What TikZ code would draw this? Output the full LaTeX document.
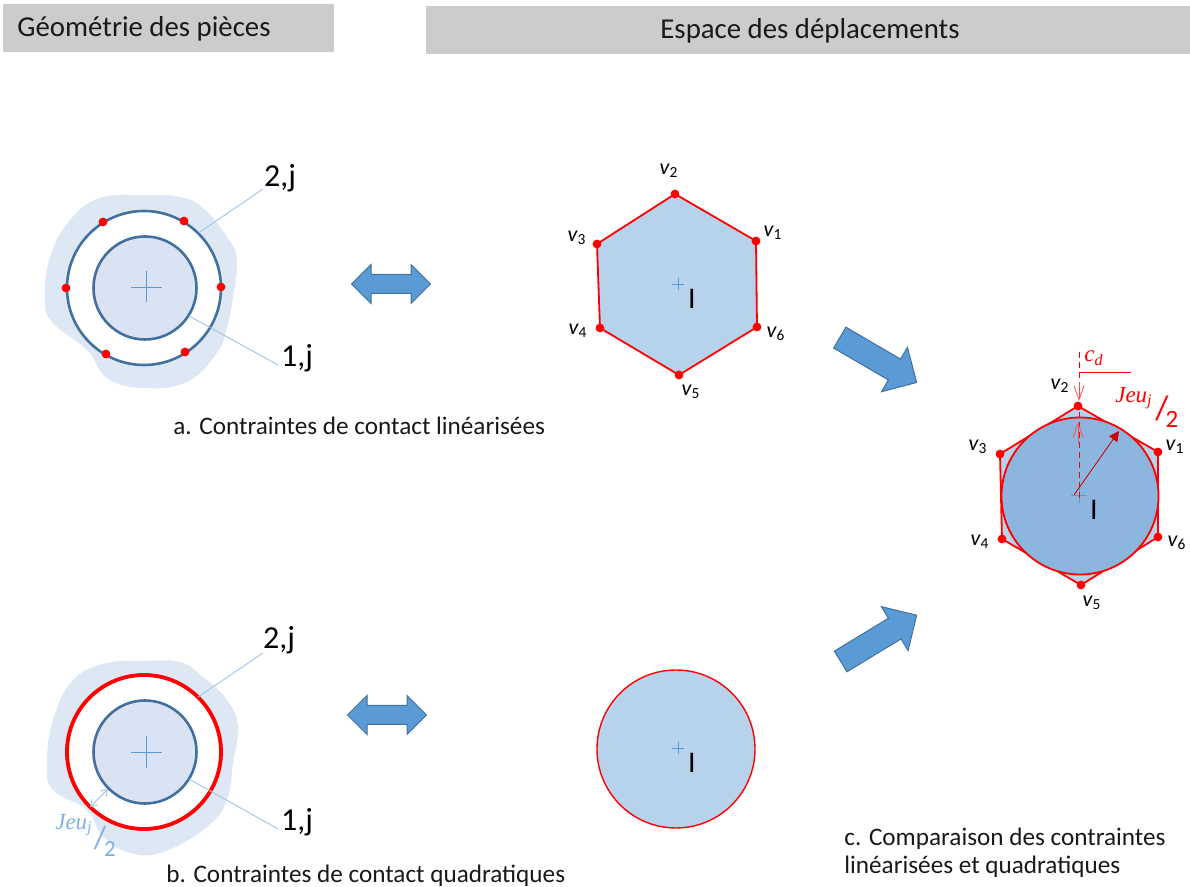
\documentclass[tikz,border=0pt]{standalone}
\usepackage{fontspec}
\setmainfont{Carlito}
\newfontfamily\jeufont{Liberation Serif}
\usetikzlibrary{shapes.arrows,arrows.meta}
\definecolor{BandGrey}{HTML}{CDCBCB}
\definecolor{BlobBlue}{HTML}{DEE8F4}
\definecolor{DiscBlue}{HTML}{DAE3F3}
\definecolor{RingBlue}{HTML}{41719C}
\definecolor{LineBlue}{HTML}{9DC3E6}
\definecolor{GapBlue}{HTML}{7FB0E0}
\definecolor{CrossBlue}{HTML}{5B9BD5}
\definecolor{HexBlue}{HTML}{B7D2EB}
\definecolor{RoundBlue}{HTML}{8DB6DF}
\definecolor{ContactRed}{HTML}{FF0000}
\tikzset{
  band/.style={fill=BandGrey, draw=none},
  heading/.style={font=\fontsize{14.4}{16}\selectfont, text=black!90},
  caption/.style={font=\fontsize{12.6}{14}\selectfont, text=black!90, anchor=base west, inner sep=0pt},
  piece/.style={font=\fontsize{16}{18}\selectfont},
  centerlabel/.style={font=\fontsize{15}{17}\selectfont, inner sep=0pt},
  vertexlabel/.style={font=\fontsize{11}{12}\selectfont\itshape, inner sep=0pt},
  gaplabel/.style={font=\jeufont\itshape\fontsize{11.5}{13}\selectfont, inner sep=0pt},
  leader/.style={draw=LineBlue, line width=0.45pt},
  contact/.style={circle, fill=ContactRed, inner sep=0pt, minimum size=4.4pt},
  blockarrow/.style={fill=CrossBlue, draw=RingBlue, line width=0.5pt, inner xsep=0pt},
  linkarrow/.style={double arrow, blockarrow, inner ysep=4.5pt, double arrow head extend=5pt, minimum height=39.5pt},
  bigarrow/.style={single arrow, blockarrow, inner ysep=5.8pt, single arrow head extend=6.8pt, minimum height=44.5pt},
}
\newcommand{\crossmark}[3]{\draw[CrossBlue, line width=0.35pt] (#1-#3,#2) -- (#1+#3,#2) (#1,#2-#3) -- (#1,#2+#3);}
\newcommand{\vname}[1]{v\textsubscript{\upshape #1}}
\begin{document}
\begin{tikzpicture}[x=0.5pt, y=-0.5pt]
  \useasboundingbox (0,0) rectangle (1190,887);

  % Bandeaux de titre
  \fill[band] (3,4) rectangle (334,52);
  \fill[band] (426,6) rectangle (1190,54);
  \node[heading] (titlegeo) at (144,29) {Géométrie des pièces};
  \node[heading] (titlespace) at (810,31) {Espace des déplacements};

  % Piece a
  \fill[BlobBlue] plot[smooth cycle, tension=0.7] coordinates {(143,195) (180,197) (203,208) (227,237) (237,260) (233,297) (227,327) (217,353) (187,382) (143,388) (107,378) (87,350) (53,323) (45,300) (50,257) (70,220) (100,198)};
  \filldraw[fill=white, draw=RingBlue, line width=1.3pt] (144,288) circle (77);
  \filldraw[fill=DiscBlue, draw=RingBlue, line width=1.3pt] (145,288) circle (51.5);
  \crossmark{146}{287}{15.5}
  \foreach \px/\py in {103/222, 184/221, 66/288, 221/287, 106/354, 185/352}
    \node[contact] at (\px,\py) {};
  \node[piece] (ringa) at (280,178) {2,j};
  \node[piece] (disca) at (297,358) {1,j};
  \coordinate (ringafoot) at (200,232);
  \coordinate (discafoot) at (189,316);
  \draw[leader] (ringafoot) -- (263,189);
  \draw[leader] (discafoot) -- (278,365);
  \node[caption] (captiona) at (173,435) {a. Contraintes de contact linéarisées};

  % Piece b
  \fill[BlobBlue] plot[smooth cycle, tension=0.7] coordinates {(143,661) (180,662) (203,677) (227,700) (238,727) (233,763) (227,800) (207,827) (163,852) (130,853) (103,837) (87,810) (53,790) (47,763) (53,720) (73,680) (107,663)};
  \filldraw[fill=white, draw=ContactRed, line width=1.9pt] (144,752) circle (77);
  \filldraw[fill=DiscBlue, draw=RingBlue, line width=1.3pt] (145,752) circle (51.5);
  \crossmark{146}{752}{15.5}
  \node[piece] (ringb) at (279,640) {2,j};
  \node[piece] (discb) at (297,822) {1,j};
  \coordinate (ringbfoot) at (198,697);
  \coordinate (discbfoot) at (189,779);
  \draw[leader] (ringbfoot) -- (263,653);
  \draw[leader] (discbfoot) -- (278,829);
  \coordinate (gapa) at (90,807);
  \coordinate (gapb) at (108,789);
  \draw[leader, {Straight Barb[length=3pt,width=4pt]}-{Straight Barb[length=3pt,width=4pt]}] (gapa) -- (gapb);
  \node[gaplabel, text=GapBlue] (jeub) at (74,825) {Jeu\textsubscript{j}};
  \node[text=GapBlue, inner sep=0pt, font=\fontsize{16}{18}\selectfont] (slashb) at (100,838) {/};
  \node[text=GapBlue, inner sep=0pt, font=\fontsize{11.5}{13}\selectfont] (twob) at (110,849) {2};
  \node[caption] (captionb) at (166,882) {b. Contraintes de contact quadratiques};

  % Fleches
  \node[linkarrow] (linka) at (391,284) {};
  \node[linkarrow] (linkb) at (387,715) {};
  \node[bigarrow, rotate=-30.3] (toplink) at (873,357) {};
  \node[bigarrow, rotate=31.3] (botlink) at (873.5,641.5) {};

  % Hexagone a
  \filldraw[fill=HexBlue, draw=ContactRed, line width=0.9pt] (675,194) -- (756,241) -- (757,327) -- (679,375) -- (600,328) -- (597,244) -- cycle;
  \foreach \px/\py in {675/194, 756/241, 757/327, 679/375, 600/328, 597/244}
    \node[contact] at (\px,\py) {};
  \crossmark{678}{284}{6}
  \node[centerlabel] (ia) at (692,299) {I};
  \node[vertexlabel] (vaone) at (773,233) {\vname{1}};
  \node[vertexlabel] (vatwo) at (669,171) {\vname{2}};
  \node[vertexlabel] (vathree) at (577,238) {\vname{3}};
  \node[vertexlabel] (vafour) at (578,331) {\vname{4}};
  \node[vertexlabel] (vafive) at (691,392) {\vname{5}};
  \node[vertexlabel] (vasix) at (776,334) {\vname{6}};

  % Cercle b
  \filldraw[fill=HexBlue, draw=ContactRed, line width=0.7pt] (676,749) circle (79);
  \crossmark{678}{748}{6}
  \node[centerlabel] (ib) at (692,763) {I};

  % Comparaison c
  \filldraw[fill=HexBlue, draw=ContactRed, line width=0.9pt] (1078,406) -- (1158,452) -- (1158,537) -- (1081,585) -- (1002,539) -- (1000,454) -- cycle;
  \filldraw[fill=RoundBlue, draw=ContactRed, line width=0.9pt] (1080,496) circle (78.5);
  \foreach \px/\py in {1078/406, 1158/452, 1158/537, 1081/585, 1002/539, 1000/454}
    \node[contact] at (\px,\py) {};
  \crossmark{1079}{495}{8}
  \node[centerlabel] (ic) at (1094,510) {I};
  \draw[draw=ContactRed, line width=0.5pt, densely dashed] (1079,352) -- (1079,500);
  \draw[draw=ContactRed, line width=0.45pt] (1079,372) -- (1131,372);
  \draw[draw=ContactRed!70, line width=0.4pt, -{Straight Barb[length=7pt,width=5pt]}] (1079,382) -- (1079,401);
  \draw[draw=ContactRed!70, line width=0.4pt, -{Straight Barb[length=7pt,width=5pt]}] (1078,443) -- (1078,422);
  \coordinate (radiusfoot) at (1074,495);
  \coordinate (radiushead) at (1119,431);
  \draw[draw=ContactRed!80!black, fill=ContactRed, line width=0.4pt, -{Triangle[length=5pt,width=5pt]}] (radiusfoot) -- (radiushead);
  \node[gaplabel, text=ContactRed] (cd) at (1094,358) {c\textsubscript{d}};
  \node[gaplabel, text=ContactRed] (jeuc) at (1134,398) {Jeu\textsubscript{j}};
  \node[text=ContactRed, inner sep=0pt, font=\fontsize{17}{19}\selectfont] (slashc) at (1162,408) {/};
  \node[text=ContactRed, inner sep=0pt, font=\fontsize{12.5}{14}\selectfont] (twoc) at (1172,419) {2};
  \node[vertexlabel] (vcone) at (1175,447) {\vname{1}};
  \node[vertexlabel] (vctwo) at (1060,386) {\vname{2}};
  \node[vertexlabel] (vcthree) at (978,447) {\vname{3}};
  \node[vertexlabel] (vcfour) at (980,542) {\vname{4}};
  \node[vertexlabel] (vcfive) at (1092,603) {\vname{5}};
  \node[vertexlabel] (vcsix) at (1177,543) {\vname{6}};

  \node[caption] (captionc) at (844,845) {c. Comparaison des contraintes};
  \node[caption] (captioncc) at (844,873) {linéarisées et quadratiques};
\end{tikzpicture}
\end{document}
